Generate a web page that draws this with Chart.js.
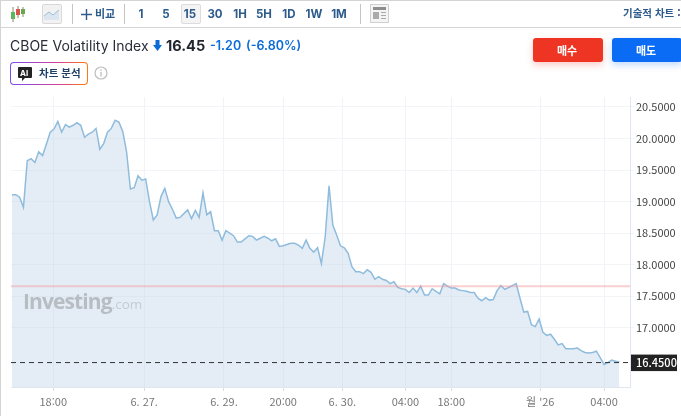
<!DOCTYPE html>
<html lang="ko"><head><meta charset="utf-8">
<script src="https://cdn.jsdelivr.net/npm/chart.js@4"></script>
<style>
html,body{margin:0;padding:0;background:#fff;width:681px;height:416px;overflow:hidden;font-family:Inter,"Noto Sans CJK KR",sans-serif}
#wrap{position:relative;width:681px;height:416px;overflow:hidden}
canvas#c{position:absolute;left:0;top:0}
.a{position:absolute;white-space:nowrap}
.tf{top:7px;font:700 11.5px/14px Inter,"Noto Sans CJK KR";color:#2d5b8c;transform:translateX(-50%)}
.div{top:4px;width:1px;height:20px;background:#c4c4c4}
</style></head><body><div id="wrap">
<canvas id="c" width="681" height="416"></canvas>
<div class="a" style="left:0;top:0;width:681px;height:1px;background:#d4d4d4"></div>
<div class="a" style="left:0;top:27px;width:681px;height:1px;background:#d4d4d4"></div>
<div class="a" style="left:0;top:0;width:1px;height:416px;background:#d4d4d4"></div>
<svg class="a" style="left:10px;top:6px" width="16" height="17" viewBox="0 0 16 17">
<path d="M3 1v15M8 0v12M13 1v10" stroke="#8a8a6a" stroke-width="1"/>
<rect x="1" y="6" width="4" height="7" fill="#5cb85c"/><rect x="6" y="3" width="4" height="6" fill="#d9534f"/><rect x="11" y="3" width="4" height="5" fill="#6aa84f"/></svg>
<div class="a" style="left:42px;top:4px;width:18px;height:18px;background:#f2f2f2;border:1px solid #d8d8d8;border-radius:2px"></div>
<svg class="a" style="left:43px;top:6px" width="18" height="16" viewBox="0 0 18 16"><path d="M1 10l5-4 4 3 6-5v10H1z" fill="#dce6f0"/><path d="M1 10l5-4 4 3 6-5" stroke="#9dbcd8" fill="none"/></svg>
<div class="a div" style="left:72px"></div>
<svg class="a" style="left:81px;top:9px" width="11" height="11"><path d="M5.5 0v11M0 5.5h11" stroke="#2d5b8c" stroke-width="1.4"/></svg>
<div class="a" style="left:95px;top:6px;font:700 11px/14px 'Noto Sans CJK KR';color:#2d5b8c">비교</div>
<div class="a div" style="left:124px"></div>
<div class="a" style="left:181px;top:4px;width:18px;height:18px;background:#f4f4f4;border:1px solid #dcdcdc;border-radius:2px"></div>
<div class="a tf" style="left:141px">1</div><div class="a tf" style="left:166px">5</div><div class="a tf" style="left:190px">15</div>
<div class="a tf" style="left:215px">30</div><div class="a tf" style="left:240px">1H</div><div class="a tf" style="left:264px">5H</div>
<div class="a tf" style="left:289px">1D</div><div class="a tf" style="left:314px">1W</div><div class="a tf" style="left:339px">1M</div>
<div class="a div" style="left:360px"></div>
<svg class="a" style="left:370px;top:4px" width="19" height="19"><rect x=".5" y=".5" width="18" height="18" fill="#f4f4f4" stroke="#d0d0d0"/><rect x="3" y="3" width="13" height="3" fill="#8e8e8e"/><rect x="3" y="8" width="6" height="7" fill="#aaa"/><path d="M11 8.5h5M11 11.5h5M11 14.5h5" stroke="#aaa"/></svg>
<div class="a" style="left:623px;top:6px;font:700 10.5px/14px 'Noto Sans CJK KR';color:#2d5b8c">기술적 차트 :</div>
<div class="a" style="left:10px;top:37px;font:400 14px/18px Inter;color:#2a2e39">CBOE Volatility Index</div>
<svg class="a" style="left:153px;top:40px" width="9" height="11"><path d="M2.5 0h4v5h2.5L4.5 11 0 5h2.5z" fill="#0a6cd6"/></svg>
<div class="a" style="left:166px;top:37px;font:700 14.5px/18px Inter;color:#22262e">16.45</div>
<div class="a" style="left:210px;top:37px;font:600 12.5px/18px Inter;color:#0b6bd8">-1.20</div>
<div class="a" style="left:246px;top:37px;font:600 12.5px/18px Inter;color:#0b6bd8">(-6.80%)</div>
<div class="a" style="left:533px;top:38px;width:70px;height:24px;border-radius:3px;background:#ee3524;box-shadow:0 3px 7px rgba(238,53,36,.25);color:#fff;font:700 11px/24px 'Noto Sans CJK KR';text-align:center;text-indent:-2px">매수</div>
<div class="a" style="left:612px;top:38px;width:70px;height:24px;border-radius:3px;background:#0a6cf5;box-shadow:0 3px 7px rgba(10,108,245,.25);color:#fff;font:700 11px/24px 'Noto Sans CJK KR';text-align:center;text-indent:-2px">매도</div>
<div class="a" style="left:10px;top:62px;width:78px;height:23px;border-radius:4px;padding:1px;box-sizing:border-box;background:linear-gradient(90deg,#7a4cf0,#d0409a 60%,#ff7a10)"><div style="width:100%;height:100%;background:#fff;border-radius:3px"></div></div>
<svg class="a" style="left:18px;top:67px" width="14" height="14"><path d="M1 0h12a1 1 0 0 1 1 1v9a1 1 0 0 1-1 1H7l-3 3v-3H1a1 1 0 0 1-1-1V1a1 1 0 0 1 1-1z" fill="#222"/></svg>
<div class="a" style="left:20px;top:68px;font:700 8px/10px Inter;color:#fff">AI</div>
<div class="a" style="left:39px;top:66px;font:700 10.5px/14px 'Noto Sans CJK KR';color:#1f3f66">차트 분석</div>
<svg class="a" style="left:94px;top:66px" width="14" height="14"><circle cx="7" cy="7" r="6" fill="none" stroke="#bdbdbd" stroke-width="1.2"/><path d="M7 6v4.5M7 3.3v1.4" stroke="#bdbdbd" stroke-width="1.3"/></svg>
<div class="a" style="left:23px;top:287px;font:700 21px/28px 'Open Sans';letter-spacing:-.9px;color:#b8bdc4">Investing<span style="font:400 13.5px/28px 'Open Sans';letter-spacing:0;color:#c6cbd1">.com</span></div>
</div>
<script>
const priceValues=[19.11,19.11,19.07,18.91,19.65,19.68,19.62,19.79,19.73,19.91,20.10,20.15,20.27,20.10,20.22,20.18,20.21,20.25,20.21,20.02,20.07,20.10,20.16,19.83,19.92,20.10,20.16,20.29,20.26,20.11,19.79,19.20,19.22,19.41,19.34,19.36,19.00,18.71,18.79,19.08,19.21,19.00,18.88,18.74,18.75,18.81,18.87,18.73,18.86,18.75,19.14,18.79,18.84,18.54,18.54,18.39,18.54,18.50,18.46,18.36,18.36,18.41,18.46,18.45,18.39,18.42,18.45,18.42,18.38,18.41,18.29,18.30,18.32,18.34,18.34,18.31,18.26,18.39,18.26,18.20,18.27,18.02,18.44,19.25,18.63,18.47,18.30,18.27,18.18,17.97,17.89,17.89,17.86,17.92,17.88,17.77,17.81,17.77,17.75,17.70,17.73,17.64,17.62,17.61,17.56,17.63,17.56,17.66,17.52,17.52,17.62,17.58,17.54,17.70,17.66,17.63,17.63,17.60,17.59,17.58,17.56,17.56,17.47,17.43,17.48,17.44,17.45,17.59,17.67,17.61,17.64,17.67,17.70,17.47,17.25,17.26,17.05,17.02,17.14,16.93,16.88,16.90,16.82,16.73,16.75,16.67,16.67,16.67,16.68,16.64,16.61,16.60,16.61,16.63,16.53,16.42,16.45,16.49,16.47,16.46];
const yTicks=[17,17.5,18,18.5,19,19.5,20,20.5];
const xTickSlots=[10.8,34.6,55.5,71,86.5,103,115,138.3,155];
const xTickLabels=["18:00","6. 27.","6. 29.","20:00","6. 30.","04:00","18:00","월 '26","04:00"];
const lastPrice=16.45, refPrice=17.66;
const xMin=-0.26,xMax=161.8,yMin=16.063,yMax=20.658;
const fnt={family:"'Noto Sans CJK KR','Noto Sans'",size:11};
const lastLabel={id:'lastLabel',afterDatasetsDraw(ch){
  const y=ch.scales.y.getPixelForValue(lastPrice),g=ch.ctx,x=ch.chartArea.right+1;
  g.save();g.fillStyle='#222';g.fillRect(x,y-8,46,16.5);
  g.fillStyle='#fff';g.font="500 11px 'Noto Sans CJK KR','Noto Sans'";g.textBaseline='middle';g.textAlign='left';
  g.fillText(lastPrice.toFixed(4),x+5,y+0.5);g.restore();}};
new Chart(document.getElementById('c'),{type:'line',plugins:[lastLabel],
data:{datasets:[
 {data:priceValues.map((v,i)=>({x:i,y:v})),borderColor:'#8fbcdd',borderWidth:1.5,backgroundColor:'rgba(190,212,230,.42)',fill:'start',pointRadius:0,tension:0,order:2},
 {data:[{x:xMin,y:refPrice},{x:xMax,y:refPrice}],borderColor:'rgba(240,150,155,.45)',borderWidth:2,pointRadius:0,fill:false,order:1},
 {data:[{x:xMin,y:lastPrice},{x:xMax,y:lastPrice}],borderColor:'#333',borderWidth:1,borderDash:[5,4],pointRadius:0,fill:false,order:0}
]},
options:{responsive:false,animation:false,devicePixelRatio:1,
 layout:{padding:{left:11,top:97,right:0,bottom:0}},
 plugins:{legend:{display:false},tooltip:{enabled:false}},
 scales:{
  x:{type:'linear',min:xMin,max:xMax,
   afterBuildTicks(s){s.ticks=xTickSlots.map(v=>({value:v}));},
   afterFit(s){s.height=29;},
   grid:{color:'#f0f3f7',tickLength:4,tickColor:'#d8dee6'},border:{color:'#e0e6ee'},
   ticks:{autoSkip:false,maxRotation:0,padding:4,color:'#777',font:fnt,
    callback(v){return xTickLabels[xTickSlots.indexOf(v)];}}},
  y:{position:'right',min:yMin,max:yMax,
   afterBuildTicks(s){s.ticks=yTicks.map(v=>({value:v}));},
   afterFit(s){s.width=51;},
   grid:{color:'#f2f4f7',tickLength:4},border:{color:'#e0e6ee'},
   ticks:{padding:2,color:'#444',font:fnt,callback(v){return v.toFixed(4);}}}
 }}});
</script></body></html>
